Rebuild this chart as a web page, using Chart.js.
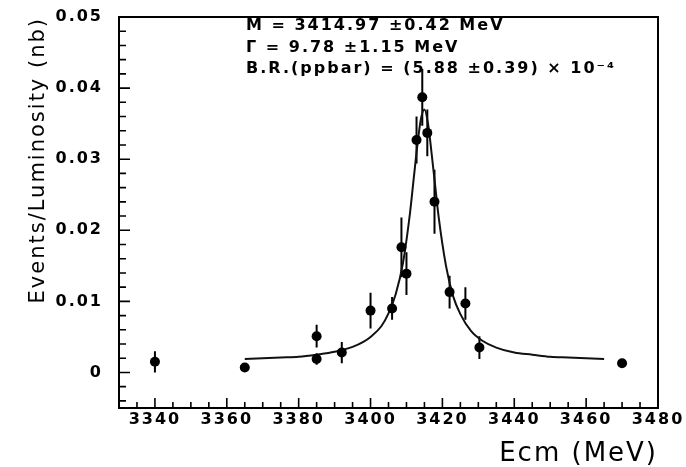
<!DOCTYPE html>
<html>
<head>
<meta charset="utf-8">
<script src="https://cdn.jsdelivr.net/npm/chart.js@4.4.1/dist/chart.umd.min.js"></script>
<style>
  html, body { margin: 0; padding: 0; background: #fff; }
  #wrap { width: 686px; height: 467px; }
</style>
</head>
<body>
<div id="wrap"><canvas id="chart"></canvas></div>
<script>
// Scan points: centre-of-mass energy (MeV), events/luminosity (nb) and error
const energy  = [3340, 3365, 3385, 3385, 3392, 3400, 3406, 3408.6, 3410, 3412.8, 3414.4, 3415.8, 3417.8, 3422, 3426.4, 3430.3, 3470];
const rate    = [0.0015, 0.0007, 0.0051, 0.0019, 0.0028, 0.0087, 0.0090, 0.0176, 0.0139, 0.0327, 0.0387, 0.0337, 0.0240, 0.0113, 0.0097, 0.0035, 0.0013];
const rateErr = [0.0015, 0.0004, 0.0016, 0.0008, 0.0015, 0.0025, 0.0016, 0.0042, 0.0030, 0.0033, 0.0040, 0.0033, 0.0045, 0.0023, 0.0023, 0.0016, 0.0004];

// Breit-Wigner fit curve, sampled along the scan
const fitEnergy = [3365, 3370, 3375, 3380, 3385, 3390, 3395, 3398, 3400, 3403, 3405, 3407, 3409, 3411, 3412, 3413, 3414, 3415,
                   3416, 3417, 3418, 3419, 3421, 3423, 3425, 3428, 3431, 3435, 3440, 3445, 3450, 3455, 3460, 3465];
const fitRate   = [0.0019, 0.0020, 0.0021, 0.0022, 0.0025, 0.0029, 0.0036, 0.0043, 0.0050, 0.0065, 0.0083, 0.0110, 0.0153, 0.0225, 0.0272, 0.0318, 0.0356, 0.0370,
                   0.0350, 0.0308, 0.0262, 0.0217, 0.0150, 0.0107, 0.0082, 0.0058, 0.0045, 0.0035, 0.0028, 0.0025, 0.0022, 0.0021, 0.0020, 0.0019];

const xTickValues = [3340, 3360, 3380, 3400, 3420, 3440, 3460, 3480];
const yTickValues = [0, 0.01, 0.02, 0.03, 0.04, 0.05];
const yTickLabels = ['0', '0.01', '0.02', '0.03', '0.04', '0.05'];

const fitResults = [
  'M = 3414.97 \u00b10.42 MeV',
  '\u0393 = 9.78 \u00b11.15 MeV',
  'B.R.(ppbar) = (5.88 \u00b10.39) \u00d7 10\u207b\u2074'
];

const near = (v, t) => Math.abs(v - t) < 1e-9;
const isMajor = (v, list) => list.some(t => near(v, t));

Chart.defaults.font.family = '"DejaVu Sans", sans-serif';
Chart.defaults.color = '#000';

// wide lettering like the old plotting package
const spacing = {
  id: 'spacing',
  beforeInit(chart) { chart.ctx.letterSpacing = '2px'; },
  beforeDraw(chart) { chart.ctx.letterSpacing = '2px'; }
};

// box frame plus inward tick marks, long on labelled values
const frame = {
  id: 'frame',
  beforeDatasetsDraw(chart) {
    const { ctx, chartArea: a, scales: { x, y } } = chart;
    ctx.save();
    ctx.strokeStyle = '#000';
    ctx.lineWidth = 2;
    ctx.strokeRect(a.left, a.top, a.right - a.left, a.bottom - a.top);
    ctx.lineWidth = 1.6;
    ctx.beginPath();
    x.ticks.forEach(t => {
      const px = x.getPixelForValue(t.value);
      const len = isMajor(t.value, xTickValues) ? 10 : 6;
      ctx.moveTo(px, a.bottom);
      ctx.lineTo(px, a.bottom - len);
    });
    y.ticks.forEach(t => {
      const py = y.getPixelForValue(t.value);
      const len = isMajor(t.value, yTickValues) ? 11 : 7;
      ctx.moveTo(a.left, py);
      ctx.lineTo(a.left + len, py);
    });
    ctx.stroke();
    ctx.restore();
  }
};

// vertical error bars under the markers
const errorBars = {
  id: 'errorBars',
  beforeDatasetsDraw(chart) {
    const { ctx, scales: { x, y } } = chart;
    ctx.save();
    ctx.strokeStyle = '#000';
    ctx.lineWidth = 2;
    ctx.beginPath();
    energy.forEach((e, i) => {
      const px = x.getPixelForValue(e);
      ctx.moveTo(px, y.getPixelForValue(rate[i] - rateErr[i]));
      ctx.lineTo(px, y.getPixelForValue(rate[i] + rateErr[i]));
    });
    ctx.stroke();
    ctx.restore();
  }
};

// fit parameters printed in the upper part of the frame
const fitText = {
  id: 'fitText',
  afterDraw(chart) {
    const { ctx, chartArea: a } = chart;
    ctx.save();
    ctx.fillStyle = '#000';
    ctx.font = 'bold 16px "DejaVu Sans"';
    ctx.textAlign = 'left';
    ctx.textBaseline = 'middle';
    fitResults.forEach((line, i) => ctx.fillText(line, a.left + 127, a.top + 9 + i * 21.5));
    ctx.restore();
  }
};

new Chart('chart', {
  type: 'scatter',
  data: {
    datasets: [
      {
        label: 'data',
        data: energy.map((e, i) => ({ x: e, y: rate[i] })),
        pointRadius: 5,
        pointHoverRadius: 5,
        backgroundColor: '#000',
        borderWidth: 0
      },
      {
        label: 'fit',
        data: fitEnergy.map((e, i) => ({ x: e, y: fitRate[i] })),
        showLine: true,
        pointRadius: 0,
        borderColor: '#111',
        borderWidth: 2,
        cubicInterpolationMode: 'monotone'
      }
    ]
  },
  options: {
    responsive: true,
    maintainAspectRatio: false,
    animation: false,
    layout: { padding: { left: 22, right: 28, top: 17, bottom: 0 } },
    plugins: { legend: { display: false }, tooltip: { enabled: false } },
    scales: {
      x: {
        type: 'linear',
        min: 3330,
        max: 3480,
        afterBuildTicks: scale => {
          const ticks = [];
          for (let v = 3335; v <= 3480; v += 5) ticks.push({ value: v });
          scale.ticks = ticks;
        },
        afterFit: scale => {
          scale.height = 59;
          scale.paddingLeft = 0;
          scale.paddingRight = 0;
        },
        grid: { display: false, drawTicks: false },
        border: { display: false },
        ticks: {
          autoSkip: false,
          maxRotation: 0,
          padding: 2,
          font: { size: 16, weight: 'bold' },
          callback: v => isMajor(v, xTickValues) ? String(v) : ''
        },
        title: {
          display: true,
          text: 'Ecm (MeV)',
          align: 'end',
          font: { size: 26, lineHeight: 0.9 },
          padding: { top: 0, bottom: 1 }
        }
      },
      y: {
        type: 'linear',
        min: -0.005,
        max: 0.05,
        afterBuildTicks: scale => {
          const ticks = [];
          for (let i = -2; i <= 25; i++) ticks.push({ value: i * 0.002 });
          scale.ticks = ticks;
        },
        afterFit: scale => {
          scale.width = 97;
          scale.paddingTop = 0;
          scale.paddingBottom = 0;
        },
        grid: { display: false, drawTicks: false },
        border: { display: false },
        ticks: {
          autoSkip: false,
          padding: 16,
          font: { size: 16, weight: 'bold' },
          callback: v => {
            const k = yTickValues.findIndex(t => near(v, t));
            return k < 0 ? '' : yTickLabels[k];
          }
        },
        title: {
          display: true,
          text: 'Events/Luminosity (nb)',
          align: 'end',
          font: { size: 21 },
          padding: { top: 4, bottom: 0 }
        }
      }
    }
  },
  plugins: [spacing, frame, errorBars, fitText]
});
</script>
</body>
</html>
